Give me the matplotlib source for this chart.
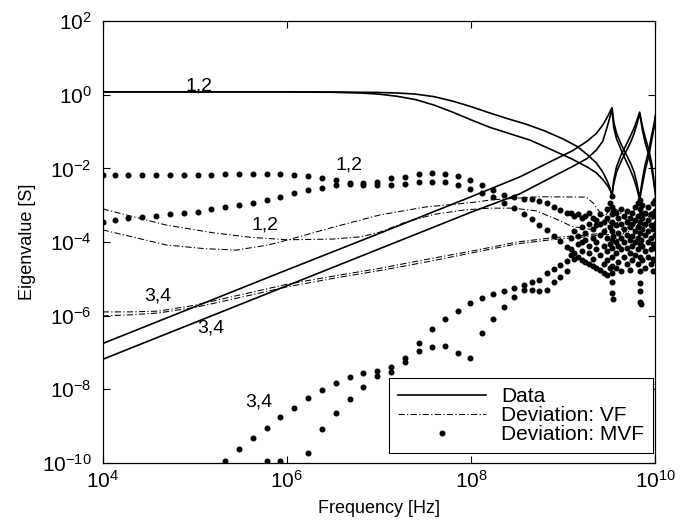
import matplotlib
matplotlib.use("Agg")
import matplotlib.pyplot as plt
from matplotlib.lines import Line2D
import numpy as np

plt.rcParams['font.family'] = ['Liberation Sans', 'DejaVu Sans']
plt.rcParams['axes.unicode_minus'] = False

# all values are log10(frequency) / log10(eigenvalue)

# measured eigenvalues, pair 1,2 (flat then falling, resonances above 1 GHz)
data1_lx = [4.0, 5.0, 6.0, 6.5, 7.0, 7.2, 7.4, 7.6, 7.8, 8.0, 8.2, 8.4, 8.6, 8.8, 9.0,
            9.15, 9.26, 9.36, 9.43, 9.48, 9.51, 9.53, 9.55, 9.58, 9.63, 9.68, 9.73, 9.77,
            9.80, 9.83, 9.86, 9.89, 9.93, 9.96, 9.99, 10.01]
data1_ly = [0.08, 0.08, 0.08, 0.078, 0.065, 0.05, 0.02, -0.05, -0.17, -0.32, -0.49, -0.65,
            -0.8, -0.98, -1.2, -1.4, -1.62, -1.85, -2.1, -2.35, -2.55, -2.75, -2.3, -1.95,
            -1.62, -1.38, -1.12, -0.9, -0.7, -0.47, -0.85, -1.15, -1.5, -1.85, -2.4, -2.8]
data2_lx = [4.0, 6.0, 6.5, 6.8, 7.0, 7.2, 7.4, 7.6, 7.8, 8.0, 8.2, 8.4, 8.64, 8.89, 9.1,
            9.26, 9.36, 9.43, 9.49, 9.53, 9.55, 9.58, 9.63, 9.68, 9.73, 9.77, 9.80, 9.83,
            9.86, 9.89, 9.93, 9.96, 9.99, 10.01]
data2_ly = [0.08, 0.08, 0.07, 0.05, 0.02, -0.04, -0.13, -0.28, -0.47, -0.68, -0.88, -1.04,
            -1.23, -1.51, -1.75, -1.96, -2.12, -2.3, -2.5, -2.7, -2.4, -2.1, -1.8, -1.55,
            -1.3, -1.05, -0.8, -0.5, -0.95, -1.3, -1.65, -2.0, -2.5, -2.9]

# measured eigenvalues, pair 3,4 (rising)
data3_lx = [4.0, 5.0, 6.0, 7.0, 8.0, 8.53, 8.89, 9.1, 9.26, 9.36, 9.43, 9.48, 9.53, 9.55,
            9.58, 9.63, 9.68, 9.73, 9.77, 9.80, 9.83, 9.86, 9.89, 9.93, 9.96, 9.99, 10.0]
data3_ly = [-6.76, -5.76, -4.76, -3.77, -2.77, -2.23, -1.78, -1.52, -1.26, -1.05, -0.82,
            -0.6, -0.35, -0.75, -1.05, -1.35, -1.6, -1.85, -2.1, -2.4, -2.8, -2.3, -1.9,
            -1.5, -1.1, -0.75, -0.56]
data4_lx = data3_lx
data4_ly = [-7.19, -6.19, -5.19, -4.19, -3.19, -2.69, -2.22, -1.95, -1.73, -1.5, -1.26,
            -0.85, -0.4, -0.9, -1.2, -1.5, -1.78, -2.05, -2.3, -2.55, -2.85, -2.45, -2.05,
            -1.65, -1.25, -0.85, -0.6]

# deviation of the VF fit
vf1_lx = [4.0, 4.69, 5.2, 5.6, 6.0, 6.5, 6.8, 7.0, 7.3, 7.6, 7.92, 8.2, 8.46, 8.7, 8.9,
          9.1, 9.33, 9.4, 9.47, 9.53, 9.6, 9.7, 9.8, 9.9, 10.0]
vf1_ly = [-3.1, -3.54, -3.75, -3.87, -3.94, -3.92, -3.86, -3.74, -3.45, -3.25, -3.13,
          -3.08, -3.08, -3.15, -3.35, -3.58, -3.67, -3.5, -3.35, -3.6, -3.45, -3.2, -3.55,
          -3.25, -3.45]
vf2_lx = [4.0, 4.69, 5.1, 5.45, 5.8, 6.0, 6.5, 7.0, 7.5, 8.0, 8.24, 8.75, 9.25, 9.33,
          9.4, 9.45, 9.53, 9.6, 9.68, 9.75, 9.83, 9.9, 10.0]
vf2_ly = [-3.67, -4.08, -4.18, -4.22, -4.08, -3.95, -3.6, -3.27, -3.05, -2.93, -2.85,
          -2.77, -2.78, -2.95, -3.2, -3.3, -3.05, -3.15, -3.4, -3.2, -3.0, -3.3, -3.1]
vf3_lx = [4.0, 4.3, 4.6, 5.0, 5.4, 6.0, 6.5, 7.0, 7.5, 8.0, 8.5, 8.9, 9.2, 9.43, 9.5,
          9.6, 9.7, 9.8, 9.9, 10.0]
vf3_ly = [-5.9, -5.9, -5.88, -5.72, -5.49, -5.15, -4.93, -4.72, -4.48, -4.25, -4.0,
          -3.88, -3.82, -3.76, -3.5, -3.6, -3.75, -3.45, -3.6, -3.5]
vf4_lx = vf3_lx
vf4_ly = [-6.01, -5.98, -5.93, -5.78, -5.56, -5.22, -4.99, -4.78, -4.55, -4.3, -4.05,
          -3.93, -3.87, -3.8, -3.8, -3.95, -3.6, -3.7, -3.45, -3.6]

# deviation of the MVF fit, sampled on the frequency grid below
mvf_lx = [4.0, 4.13, 4.28, 4.43, 4.58, 4.73, 4.88, 5.03, 5.18, 5.33, 5.48, 5.63, 5.78,
          5.93, 6.08, 6.23, 6.38, 6.53, 6.68, 6.83, 6.98, 7.13, 7.28, 7.43, 7.58, 7.72,
          7.86, 7.99, 8.12, 8.24, 8.36, 8.47, 8.57, 8.66, 8.74, 8.82, 8.90, 8.97, 9.04]
mvf1_ly = [-2.17, -2.17, -2.18, -2.18, -2.17, -2.18, -2.18, -2.17, -2.17, -2.16, -2.15,
           -2.14, -2.14, -2.14, -2.17, -2.21, -2.27, -2.31, -2.4, -2.4, -2.37, -2.27,
           -2.22, -2.16, -2.13, -2.15, -2.2, -2.31, -2.45, -2.59, -2.72, -2.77, -2.82,
           -2.84, -2.88, -2.95, -3.04, -3.12, -3.2]
mvf2_ly = [-3.45, -3.4, -3.36, -3.31, -3.29, -3.24, -3.2, -3.18, -3.11, -3.04, -2.99,
           -2.93, -2.86, -2.79, -2.68, -2.59, -2.52, -2.45, -2.43, -2.45, -2.45, -2.45,
           -2.43, -2.38, -2.36, -2.38, -2.45, -2.57, -2.66, -2.77, -2.93, -3.08, -3.24,
           -3.38, -3.54, -3.68, -3.85, -3.98, -4.13]
nan = np.nan
mvf3_ly = [nan, nan, nan, nan, nan, nan, nan, nan, nan, -9.95, -9.64, -9.34, -9.05,
           -8.77, -8.5, -8.25, -8.02, -7.84, -7.66, -7.56, -7.52, -7.4, -7.16, -6.75,
           -6.37, -6.1, -5.87, -5.65, -5.53, -5.41, -5.32, -5.26, -5.17, -5.08, -5.02,
           -4.85, -4.74, -4.63, -4.51]
mvf4_ly = [nan, nan, nan, nan, nan, nan, nan, nan, nan, nan, nan, nan, -9.95, -9.95,
           nan, -9.73, -9.09, -8.64, -8.28, -7.95, -7.65, -7.53, -7.25, -6.97, -6.86,
           -6.83, -7.01, -7.16, -6.47, -6.08, -5.78, -5.5, -5.3, -5.3, -5.32, -5.3, -5.1,
           -4.95, -4.8]

# MVF deviations of all four eigenvalues in the resonance band
cloud = {
    9.08: [-3.22, -3.9, -4.2, -4.35],
    9.12: [-3.3, -3.7, -4.3, -4.45],
    9.16: [-3.25, -3.85, -4.05, -4.4],
    9.20: [-3.35, -3.6, -4.0, -4.5, -4.25],
    9.24: [-3.3, -3.75, -3.95, -4.55],
    9.28: [-3.2, -3.5, -4.1, -4.6, -4.3],
    9.32: [-3.35, -3.65, -3.9, -4.45, -4.65],
    9.36: [-3.4, -3.55, -4.0, -4.7, -4.2],
    9.40: [-3.25, -3.5, -3.8, -4.35, -4.75],
    9.44: [-3.45, -3.7, -4.1, -4.6, -4.85],
    9.48: [-3.1, -3.35, -3.9, -4.25, -4.5, -4.9],
    9.51: [-2.95, -3.6, -4.05, -4.7],
    9.53: [-2.75, -3.05, -3.25, -3.45, -3.7, -3.95, -4.15, -4.4, -4.65, -4.85, -5.08, -5.4],
    9.545: [-5.56, -3.15, -3.85],
    9.57: [-3.2, -3.55, -4.0, -4.3, -4.7],
    9.60: [-3.35, -3.75, -4.1, -4.55],
    9.63: [-3.1, -3.5, -3.9, -4.2, -4.8],
    9.66: [-3.3, -3.65, -4.0, -4.4],
    9.69: [-3.15, -3.45, -3.8, -4.15, -4.6],
    9.72: [-3.35, -3.6, -3.95, -4.3, -4.75],
    9.75: [-3.2, -3.5, -3.85, -4.1, -4.5],
    9.78: [-3.05, -3.4, -3.7, -4.0, -4.35],
    9.81: [-2.95, -3.3, -3.6, -3.9, -4.2, -4.6],
    9.83: [-2.85, -3.1, -3.45, -3.75, -4.05, -4.4, -4.8, -5.12, -5.33, -5.62],
    9.845: [-5.69, -3.25, -3.95],
    9.86: [-3.0, -3.35, -3.65, -4.1, -4.5],
    9.89: [-3.2, -3.5, -3.8, -4.25, -4.7],
    9.92: [-3.05, -3.4, -3.7, -4.0, -4.4],
    9.95: [-3.25, -3.55, -3.9, -4.2, -4.6],
    9.98: [-2.95, -3.3, -3.65, -4.05, -4.45, -4.8],
    10.0: [-2.85, -3.15, -3.5, -3.8, -4.15, -4.5],
}

# eigenvalue pair labels: text, log10 f, log10 y
pair_labels = [
    ('1,2', 5.05, 0.25),
    ('1,2', 6.67, -1.92),
    ('1,2', 5.76, -3.54),
    ('3,4', 4.60, -5.46),
    ('3,4', 5.17, -6.33),
    ('3,4', 5.69, -8.34),
]


def pw(v):
    return 10.0 ** np.asarray(v, dtype=float)


fig = plt.figure(figsize=(6.9, 5.27), dpi=100)
ax = fig.add_axes([0.1488, 0.122, 0.8009, 0.8376])
ax.set_xscale('log')
ax.set_yscale('log')

line_kw = dict(color='black', lw=1.2, solid_joinstyle='round')
for lx, ly in [(data1_lx, data1_ly), (data2_lx, data2_ly),
               (data3_lx, data3_ly), (data4_lx, data4_ly)]:
    ax.plot(pw(lx), pw(ly), **line_kw)

dashdot = (0, (6, 2.2, 1.2, 2.2))
vf_kw = dict(color='black', lw=0.75, linestyle=dashdot)
for lx, ly in [(vf1_lx, vf1_ly), (vf2_lx, vf2_ly), (vf3_lx, vf3_ly), (vf4_lx, vf4_ly)]:
    ax.plot(pw(lx), pw(ly), **vf_kw)

dot_kw = dict(color='black', marker='o', ms=3.3, linestyle='none', clip_on=True)
for ly in [mvf1_ly, mvf2_ly, mvf3_ly, mvf4_ly]:
    ax.plot(pw(mvf_lx), pw(ly), **dot_kw)
cloud_lx = [k for k, vals in cloud.items() for _ in vals]
cloud_ly = [v for vals in cloud.values() for v in vals]
ax.plot(pw(cloud_lx), pw(cloud_ly), **dot_kw)

for txt, lx, ly in pair_labels:
    ax.text(10 ** lx, 10 ** ly, txt, ha='center', va='center', fontsize=14)

ax.set_xlim(1e4, 1e10)
ax.set_ylim(1e-10, 1e2)
ax.set_xticks([1e4, 1e6, 1e8, 1e10])
ax.set_yticks([1e-10, 1e-8, 1e-6, 1e-4, 1e-2, 1e0, 1e2])
ax.minorticks_off()
ax.tick_params(direction='in', top=True, right=True, length=5, width=0.8,
               labelsize=15, pad=5)
ax.tick_params(axis='y', pad=8)
for sp in ax.spines.values():
    sp.set_linewidth(0.9)

ax.set_xlabel('Frequency [Hz]', fontsize=13, labelpad=6)
ax.set_ylabel('Eigenvalue [S]', fontsize=13, labelpad=4)

handles = [
    Line2D([], [], **line_kw),
    Line2D([], [], **vf_kw),
    Line2D([], [], color='black', marker='o', ms=3.3, linestyle='none'),
]
leg = ax.legend(handles, ['Data', 'Deviation: VF', 'Deviation: MVF'],
                loc='lower right', bbox_to_anchor=(0.996, 0.022), borderaxespad=0,
                fontsize=15, fancybox=False, framealpha=1, edgecolor='black',
                handlelength=4.2, handletextpad=0.75, labelspacing=0.0, borderpad=0.42)
leg.get_frame().set_linewidth(0.8)

fig.savefig('out.png', dpi=100)
